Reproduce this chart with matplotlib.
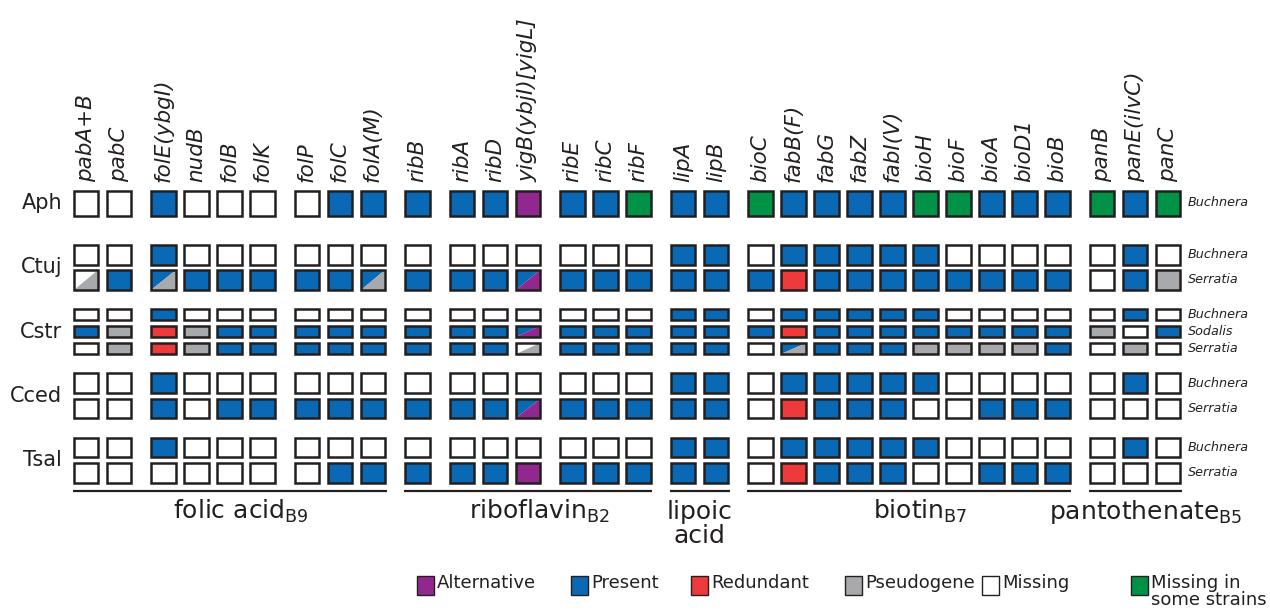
import matplotlib.pyplot as plt
from matplotlib.patches import Rectangle, Polygon

# genes, grouped by pathway; sub = small gaps between gene blocks
genes = ['pabA+B', 'pabC', 'folE(ybgI)', 'nudB', 'folB', 'folK', 'folP', 'folC', 'folA(M)',
         'ribB', 'ribA', 'ribD', 'yigB(ybjI)[yigL]', 'ribE', 'ribC', 'ribF',
         'lipA', 'lipB',
         'bioC', 'fabB(F)', 'fabG', 'fabZ', 'fabI(V)', 'bioH', 'bioF', 'bioA', 'bioD1', 'bioB',
         'panB', 'panE(ilvC)', 'panC']
sub = [0, 0, 1, 1, 1, 1, 2, 2, 2,
       3, 4, 4, 4, 5, 5, 5,
       6, 6,
       7, 7, 7, 7, 7, 7, 7, 7, 7, 7,
       8, 8, 8]
pathway = [0]*9 + [1]*7 + [2]*2 + [3]*10 + [4]*3
pathway_names = [r'folic acid$_{\mathregular{B9}}$', r'riboflavin$_{\mathregular{B2}}$',
                 'lipoic\nacid', r'biotin$_{\mathregular{B7}}$', r'pantothenate$_{\mathregular{B5}}$']

# P present, M missing, A alternative, R redundant, G pseudogene, S missing in some strains
# "X/Y": X upper-left half, Y lower-right half
aph_buchnera  = 'M M P M M M M P P  P P P A P P S  P P  S P P P P S S P P P  S P S'.split()
ctuj_buchnera = 'M M P M M M M M M  M M M M M M M  P P  M P P P P P M M M M  M P M'.split()
ctuj_serratia = 'M/G P P/G P P P P P P/G  P P P P/A P P P  P P  P R P P P P P P P P  M P G'.split()
cstr_buchnera = 'M M P M M M M M M  M M M M M M M  P P  M P P P P P M M M M  M P M'.split()
cstr_sodalis  = 'P G R G P P P P P  P P P P/A P P P  P P  P R P P P P P P P P  G M P'.split()
cstr_serratia = 'M G R G P P P P P  P P P M/G P P P  P P  M P/G P P P G G G G P  M G M'.split()
cced_buchnera = 'M M P M M M M M M  M M M M M M M  P P  M P P P P P M M M M  M P M'.split()
cced_serratia = 'M M P M P P P P P  P P P P/A P P P  P P  M R P P P M M P P P  M M M'.split()
tsal_buchnera = 'M M P M M M M M M  M M M M M M M  P P  M P P P P P M M M M  M P M'.split()
tsal_serratia = 'M M M M M M M P P  P P P A P P P  P P  M R P P P M M P P P  M M M'.split()

hosts = ['Aph', 'Ctuj', 'Cstr', 'Cced', 'Tsal']
symbionts = [['Buchnera'], ['Buchnera', 'Serratia'], ['Buchnera', 'Sodalis', 'Serratia'],
             ['Buchnera', 'Serratia'], ['Buchnera', 'Serratia']]
status = [[aph_buchnera], [ctuj_buchnera, ctuj_serratia],
          [cstr_buchnera, cstr_sodalis, cstr_serratia],
          [cced_buchnera, cced_serratia], [tsal_buchnera, tsal_serratia]]

legend_codes = ['A', 'P', 'R', 'G', 'M', 'S']
legend_names = ['Alternative', 'Present', 'Redundant', 'Pseudogene', 'Missing', 'Missing in\nsome strains']

colors = {'P': '#0a69b4', 'M': '#ffffff', 'A': '#92278f', 'R': '#ee3a3b',
          'G': '#a7a9ac', 'S': '#009247'}
edge = '#231f20'

# layout (pixels)
x0, step, gap, box_w = 86, 33, 11.5, 24.5
lw = 1.8
col_x = [x0 + step*i + gap*s for i, s in enumerate(sub)]
block_y0, block_step = 203, 64.25
block_h = [26, 46, 46, 46, 46]
row_gap = 4.5

fig = plt.figure(figsize=(12.7, 6.15), dpi=100)
ax = fig.add_axes([0, 0, 1, 1])
ax.set_xlim(0, 1270)
ax.set_ylim(615, 0)
ax.axis('off')


def draw_box(x, y, w, h, code):
    l, r, t, b = x - w/2, x + w/2, y - h/2, y + h/2
    if '/' in code:
        c1, c2 = code.split('/')
        ax.add_patch(Polygon([(l, b), (l, t), (r, t)], closed=True, facecolor=colors[c1], edgecolor='none'))
        ax.add_patch(Polygon([(l, b), (r, b), (r, t)], closed=True, facecolor=colors[c2], edgecolor='none'))
        ax.add_patch(Rectangle((l, t), w, h, facecolor='none', edgecolor=edge, lw=lw))
    else:
        ax.add_patch(Rectangle((l, t), w, h, facecolor=colors[code], edgecolor=edge, lw=lw))


# gene labels
for x, g in zip(col_x, genes):
    ax.text(x, 182, g, rotation=90, ha='center', va='bottom', fontsize=15.5, style='italic', color='#231f20')

# boxes
for k, host in enumerate(hosts):
    yc = block_y0 + block_step*k
    n = len(status[k])
    h = (block_h[k] - (n-1)*row_gap) / n
    top = yc - block_h[k]/2
    ax.text(62, yc, host, ha='right', va='center', fontsize=15, color='#231f20')
    for j in range(n):
        y = top + h/2 + j*(h + row_gap)
        for x, code in zip(col_x, status[k][j]):
            draw_box(x, y, box_w, h - 1, code)
        ax.text(1188, y, symbionts[k][j], ha='left', va='center', fontsize=9.2, style='italic', color='#231f20')

# pathway lines and names
for p, name in enumerate(pathway_names):
    xs = [x for x, q in zip(col_x, pathway) if q == p]
    left, right = xs[0] - 13.5, xs[-1] + 13.5
    ax.plot([left, right], [491, 491], color=edge, lw=1.6, solid_capstyle='butt')
    mid = (left + right) / 2
    if '\n' in name:
        ax.text(mid, 524, name, ha='center', va='center', fontsize=18, linespacing=1.0, color='#231f20')
    else:
        ax.text(mid + 11, 519, name, ha='center', va='baseline', fontsize=18, color='#231f20')

# legend
legend_x = [417, 571, 691, 845, 982, 1131]
for lx, code, name in zip(legend_x, legend_codes, legend_names):
    ax.add_patch(Rectangle((lx, 576), 17, 19, facecolor=colors[code], edgecolor=edge, lw=1.0))
    ax.text(lx + 20, 574, name, ha='left', va='top', fontsize=13, linespacing=0.92, color='#231f20')

plt.savefig('out.png', dpi=100)
